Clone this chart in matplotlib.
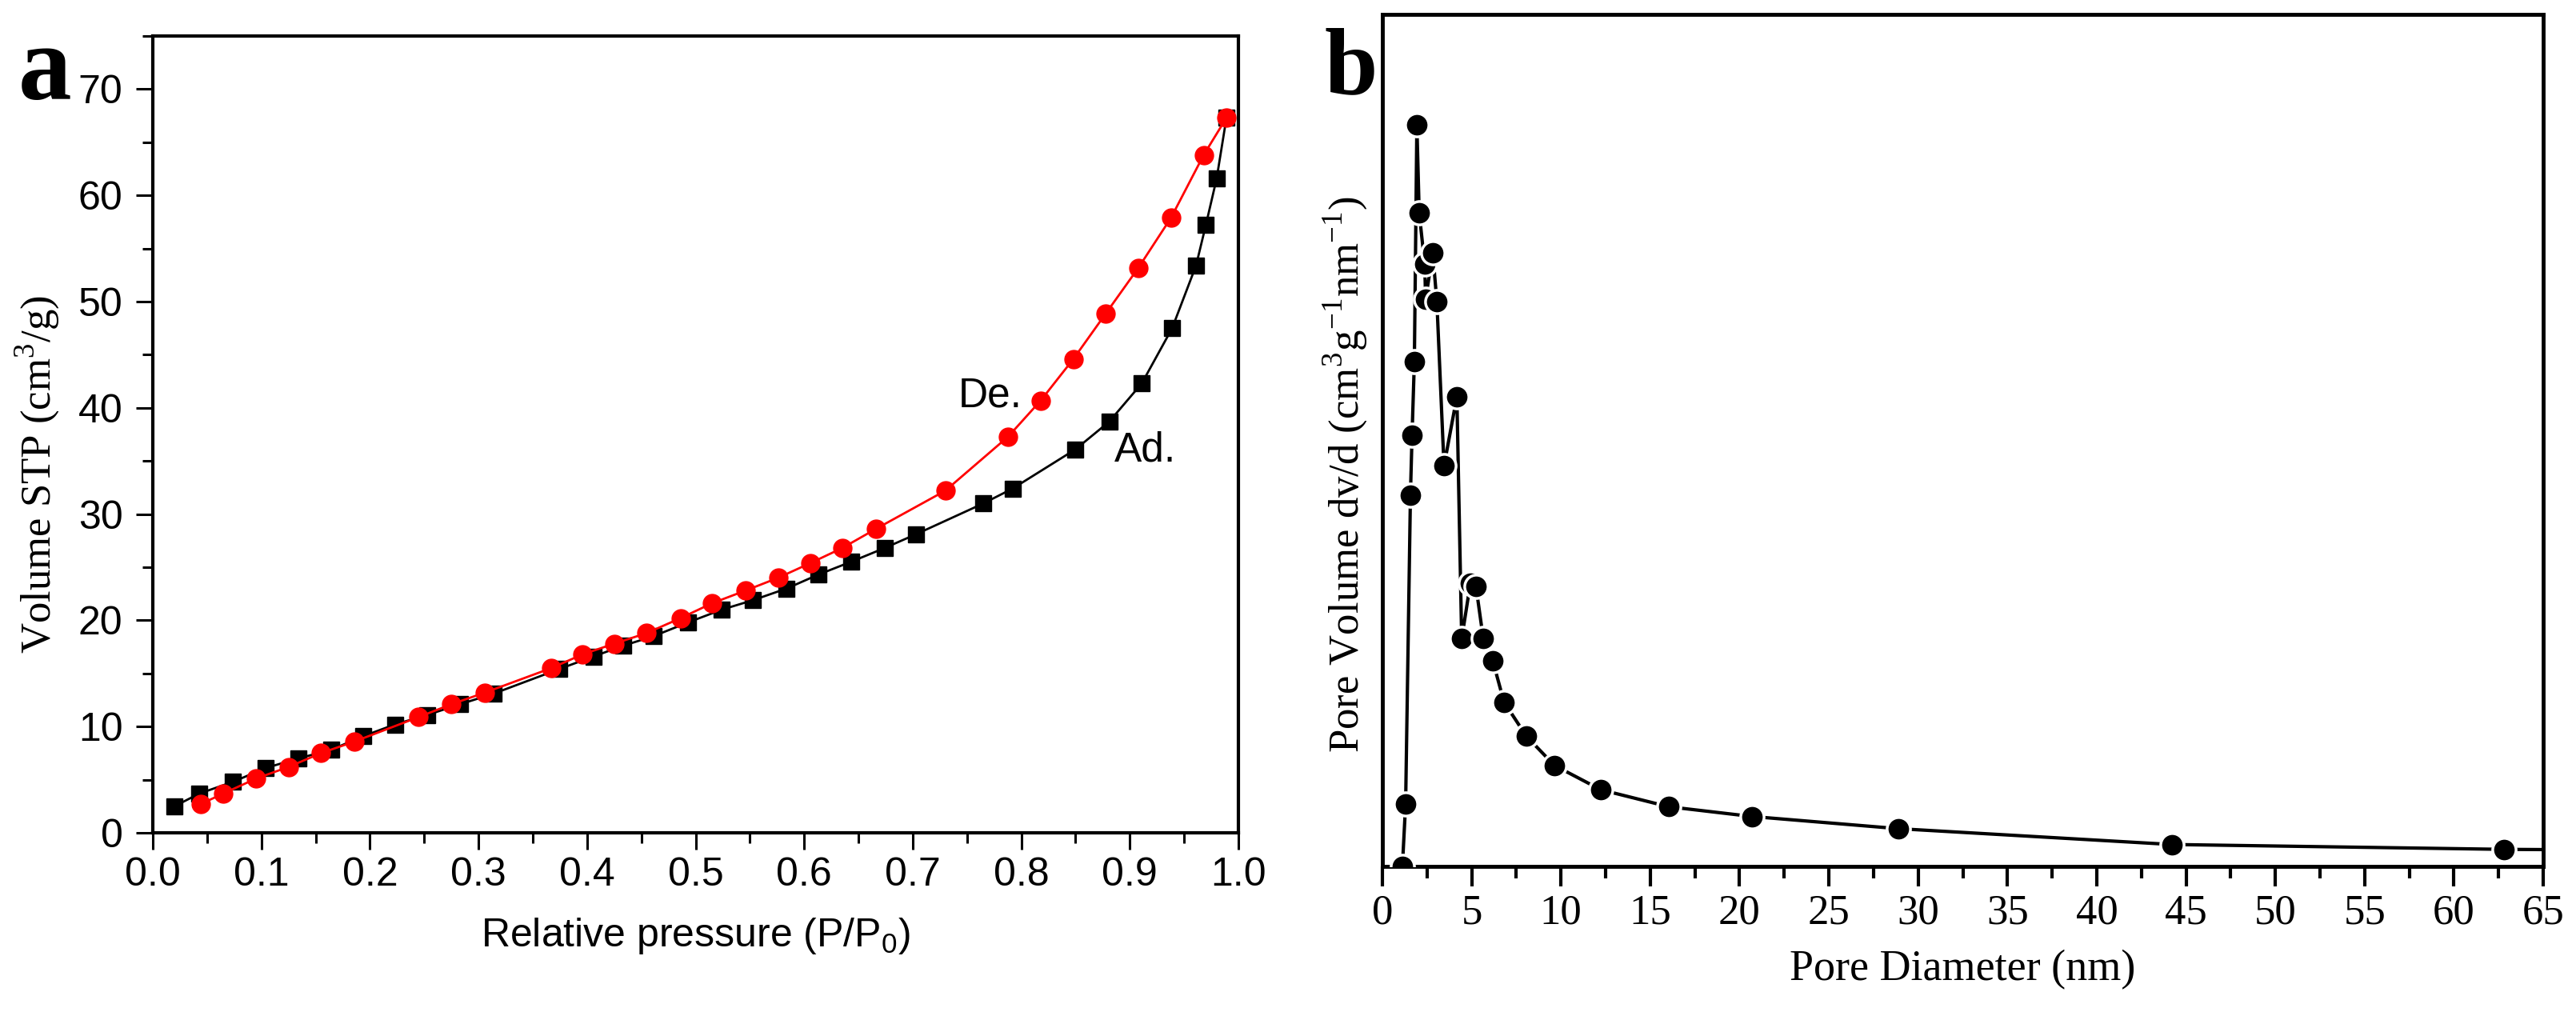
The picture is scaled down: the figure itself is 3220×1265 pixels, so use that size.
import matplotlib
matplotlib.use("Agg")
import matplotlib.pyplot as plt
from matplotlib.ticker import MultipleLocator, NullLocator

SANS = "Liberation Sans"
SERIF = "Liberation Serif"

# ---- panel a: N2 isotherm ----
ads_p = [0.020, 0.043, 0.074, 0.104, 0.134, 0.164, 0.194, 0.223, 0.253, 0.283,
         0.314, 0.374, 0.406, 0.433, 0.461, 0.493, 0.524, 0.553, 0.584, 0.613,
         0.643, 0.674, 0.703, 0.765, 0.792, 0.850, 0.881, 0.911, 0.939, 0.961,
         0.970, 0.980, 0.989]
ads_v = [2.5, 3.7, 4.8, 6.1, 7.0, 7.8, 9.1, 10.2, 11.1, 12.1,
         13.1, 15.4, 16.6, 17.6, 18.5, 19.8, 21.0, 21.9, 23.0, 24.3,
         25.5, 26.8, 28.1, 31.0, 32.4, 36.1, 38.7, 42.3, 47.5, 53.4,
         57.2, 61.6, 67.3]

des_p = [0.044, 0.065, 0.095, 0.125, 0.155, 0.186, 0.245, 0.275, 0.306, 0.367,
         0.396, 0.425, 0.455, 0.486, 0.515, 0.546, 0.576, 0.606, 0.635, 0.666,
         0.730, 0.788, 0.818, 0.848, 0.878, 0.908, 0.938, 0.968, 0.989]
des_v = [2.7, 3.7, 5.1, 6.2, 7.5, 8.6, 10.9, 12.1, 13.2, 15.5,
         16.8, 17.8, 18.8, 20.2, 21.6, 22.8, 24.0, 25.4, 26.8, 28.6,
         32.2, 37.3, 40.7, 44.6, 48.9, 53.2, 57.9, 63.8, 67.3]

# ---- panel b: pore size distribution ----
pore_d = [1.12, 1.30, 1.57, 1.66, 1.79, 1.93, 2.06, 2.37, 2.42, 2.82,
          3.05, 3.45, 4.17, 4.44, 4.93, 5.24, 5.65, 6.18, 6.81, 8.06,
          9.63, 12.23, 16.04, 20.7, 28.9, 44.2, 62.8, 100.0]
pore_v = [0.0, 0.0051, 0.0305, 0.0354, 0.0415, 0.0609, 0.0537, 0.0495, 0.0466, 0.0504,
          0.0464, 0.0329, 0.0386, 0.0187, 0.0233, 0.0230, 0.0187, 0.0169, 0.0135, 0.0107,
          0.0083, 0.0063, 0.0049, 0.0041, 0.0031, 0.0018, 0.0014, 0.0011]

W, H = 3220, 1265
fig = plt.figure(figsize=(W / 100, H / 100), dpi=100)

# panel a
ax = fig.add_axes([191 / W, 1 - 1041 / H, 1357 / W, 996 / H])
ax.plot(ads_p, ads_v, color="black", lw=2.0, marker="s", ms=14.5, mec="black", zorder=3)
ax.plot(des_p, des_v, color="red", lw=2.0, marker="o", ms=16.5, mec="red", zorder=4)
ax.set_xlim(0, 1.0)
ax.set_ylim(0, 75)
ax.xaxis.set_major_locator(MultipleLocator(0.1))
ax.xaxis.set_minor_locator(MultipleLocator(0.05))
ax.yaxis.set_major_locator(MultipleLocator(10))
ax.yaxis.set_minor_locator(MultipleLocator(5))
ax.set_xticks([i / 10 for i in range(11)])
ax.set_xticklabels([f"{i / 10:.1f}" for i in range(11)])
for s in ax.spines.values():
    s.set_linewidth(3)
ax.tick_params(which="major", direction="out", length=15, width=2.2, top=False, right=False)
ax.tick_params(which="minor", direction="out", length=9.5, width=2.2, top=False, right=False)
ax.tick_params(axis="x", pad=6.5, labelsize=36)
ax.tick_params(axis="y", pad=12, labelsize=36)
for lab in ax.get_xticklabels() + ax.get_yticklabels():
    lab.set_fontfamily(SANS)

ax.set_xlabel(r"Relative pressure (P/P$_\mathregular{0}$)", fontsize=36, family=SANS)
ax.xaxis.set_label_coords(0.5, -0.104)
ax.set_ylabel(r"Volume STP (cm$^\mathregular{3}$/g)", fontsize=38, family=SERIF)
ax.yaxis.set_label_coords(-0.084, 0.45)

ax.text(0.742, 40.1, "De.", fontsize=37, family=SANS, va="baseline", ha="left")
ax.text(0.886, 35.0, "Ad.", fontsize=37, family=SANS, va="baseline", ha="left")

# panel b
bx = fig.add_axes([1728 / W, 1 - 1083 / H, 1451 / W, 1065 / H])
bx.plot(pore_d, pore_v, color="black", lw=3.0, marker="o", ms=21, mfc="black",
        mec="white", mew=2.5, zorder=3)
bx.set_xlim(0, 65)
bx.set_ylim(0, 0.07)
bx.xaxis.set_major_locator(MultipleLocator(5))
bx.xaxis.set_minor_locator(MultipleLocator(2.5))
bx.yaxis.set_major_locator(NullLocator())
bx.yaxis.set_minor_locator(NullLocator())
for s in bx.spines.values():
    s.set_linewidth(3.5)
bx.tick_params(axis="x", which="major", direction="out", length=18, width=3, pad=6.5,
               labelsize=38, top=False)
bx.tick_params(axis="x", which="minor", direction="out", length=11, width=3, top=False)
for lab in bx.get_xticklabels():
    lab.set_fontfamily(SERIF)
bx.set_xlabel("Pore Diameter (nm)", fontsize=39, family=SERIF)
bx.xaxis.set_label_coords(0.5, -0.097)
bx.set_ylabel(r"Pore Volume dv/d (cm$^\mathregular{3}$g$^\mathregular{-1}$nm$^\mathregular{-1}$)",
              fontsize=38, family=SERIF)
bx.yaxis.set_label_coords(-0.011, 0.46)

# panel letters
fig.text(23 / W, 1 - 124 / H, "a", fontsize=96, family=SERIF, weight="bold",
         va="baseline", ha="left")
fig.text(1655 / W, 1 - 116 / H, "b", fontsize=86, family=SERIF, weight="bold",
         va="baseline", ha="left")

fig.savefig("out.png", dpi=100)
